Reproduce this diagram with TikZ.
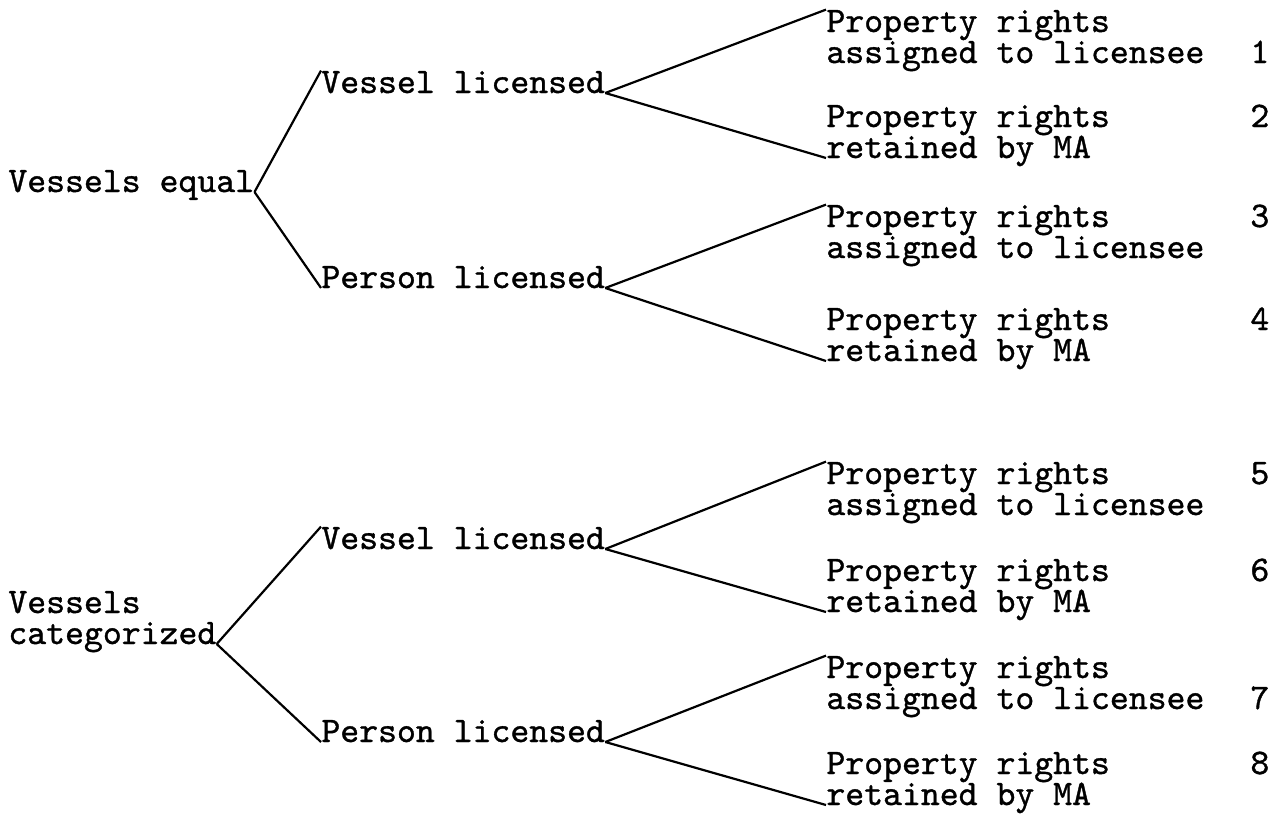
\documentclass[tikz,border=0pt]{standalone}
\usepackage{fontspec}
\usepackage{tikz}
\newfontfamily\typer{lmmono10-regular.otf}[FakeBold=1]

\begin{document}
\begin{tikzpicture}[x=0.5pt,y=-0.5pt,
    every node/.style={inner sep=0pt,anchor=base west,
      font=\typer\fontsize{18}{22}\selectfont},
    branch/.style={line width=1.1pt}]
\useasboundingbox (0,0) rectangle (1274,814);

% roots
\node (ve)  at (8,192) {Vessels equal};
\node (vc1) at (8,613) {Vessels};
\node (vc2) at (8,644) {categorized};

% licensing
\node (vl1) at (321,93)  {Vessel licensed};
\node (pl1) at (321,288) {Person licensed};
\node (vl2) at (321,549) {Vessel licensed};
\node (pl2) at (321,742) {Person licensed};

% property rights
\node (p1a) at (826,32)  {Property rights};
\node (p1b) at (826,63)  {assigned to licensee};
\node (p2a) at (826,127) {Property rights};
\node (p2b) at (826,158) {retained by MA};
\node (p3a) at (826,227) {Property rights};
\node (p3b) at (826,258) {assigned to licensee};
\node (p4a) at (826,330) {Property rights};
\node (p4b) at (826,361) {retained by MA};
\node (p5a) at (826,484) {Property rights};
\node (p5b) at (826,515) {assigned to licensee};
\node (p6a) at (826,581) {Property rights};
\node (p6b) at (826,612) {retained by MA};
\node (p7a) at (826,678) {Property rights};
\node (p7b) at (826,709) {assigned to licensee};
\node (p8a) at (826,774) {Property rights};
\node (p8b) at (826,805) {retained by MA};

% case numbers
\node (n1) at (1250,63)  {1};
\node (n2) at (1250,127) {2};
\node (n3) at (1250,227) {3};
\node (n4) at (1250,330) {4};
\node (n5) at (1250,484) {5};
\node (n6) at (1250,581) {6};
\node (n7) at (1250,709) {7};
\node (n8) at (1250,774) {8};

\path[branch]
    (ve.base east)  edge (vl1.north west)
    (ve.base east)  edge (pl1.base west)
    (vl1.base east) edge (p1a.north west)
    (vl1.base east) edge (p2b.base west)
    (pl1.base east) edge (p3a.north west)
    (pl1.base east) edge (p4b.base west)
    (vc2.base east) edge (vl2.north west)
    (vc2.base east) edge (pl2.base west)
    (vl2.base east) edge (p5a.north west)
    (vl2.base east) edge (p6b.base west)
    (pl2.base east) edge (p7a.north west)
    (pl2.base east) edge (p8b.base west);
\end{tikzpicture}
\end{document}
